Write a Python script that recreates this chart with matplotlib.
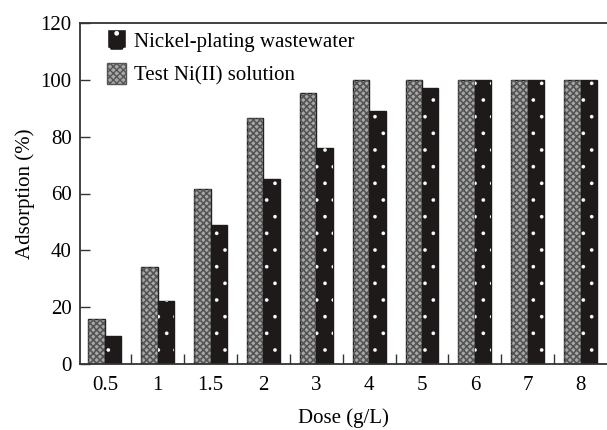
import numpy as np
import matplotlib.pyplot as plt
from matplotlib.patches import Patch

plt.rcParams["font.family"] = ["Liberation Serif", "DejaVu Serif"]

doses = ["0.5", "1", "1.5", "2", "3", "4", "5", "6", "7", "8"]
test_solution = [16, 34, 61.5, 86.5, 95.5, 100, 100, 100, 100, 100]
wastewater = [10, 22, 49, 65, 76, 89, 97, 100, 100, 100]

x = np.arange(len(doses))
w = 0.31

fig = plt.figure(figsize=(6.07, 4.3), dpi=100)
ax = fig.add_axes([80 / 607, 66 / 430, 527 / 607, 341 / 430])

# test solution: grey checker
with plt.rc_context({"hatch.linewidth": 1.2}):
    ax.bar(x - w / 2, test_solution, w, color="#a8a8a8", edgecolor="#222222", linewidth=1.0)
    ax.bar(x - w / 2, test_solution, w, fill=False, hatch="xxxxx", edgecolor="#555555", linewidth=0)
    test_handle = Patch(facecolor="#a8a8a8", edgecolor="#555555", hatch="xxxxx",
                        label="Test Ni(II) solution")
# wastewater: black with small white dots
with plt.rc_context({"hatch.linewidth": 0.2}):
    ax.bar(x + w / 2, wastewater, w, color="#1e1a1a", edgecolor="#1e1a1a", linewidth=1.0)
    ax.bar(x + w / 2, wastewater, w, fill=False, hatch=".", edgecolor="white", linewidth=0)
    ww_handle = Patch(facecolor="#1e1a1a", edgecolor="white", hatch=".",
                      label="Nickel-plating wastewater")

ax.set_xlim(-0.47, 9.5)
ax.set_ylim(0, 120)
ax.set_yticks(range(0, 121, 20))
ax.set_xticks(x)
ax.set_xticklabels(doses)
ax.set_xticks(x[:-1] + 0.5, minor=True)
ax.tick_params(axis="x", which="major", length=0, labelsize=15, pad=9)
ax.tick_params(axis="x", which="minor", direction="in", length=7, width=1, color="#333333")
ax.tick_params(axis="y", direction="in", length=7, width=1, labelsize=15, color="#333333", pad=6)
ax.spines["right"].set_visible(False)
for s in ["left", "bottom", "top"]:
    ax.spines[s].set_linewidth(1.3)
    ax.spines[s].set_color("#333333")

ax.set_xlabel("Dose (g/L)", fontsize=15, labelpad=9)
ax.set_ylabel("Adsorption (%)", fontsize=15, labelpad=4)

ax.legend(handles=[ww_handle, test_handle], loc="upper left", bbox_to_anchor=(0.016, 1.038),
          frameon=False, fontsize=15, handlelength=0.9, handleheight=1.2,
          handletextpad=0.4, labelspacing=0.55)

fig.savefig("out.png", dpi=100)
